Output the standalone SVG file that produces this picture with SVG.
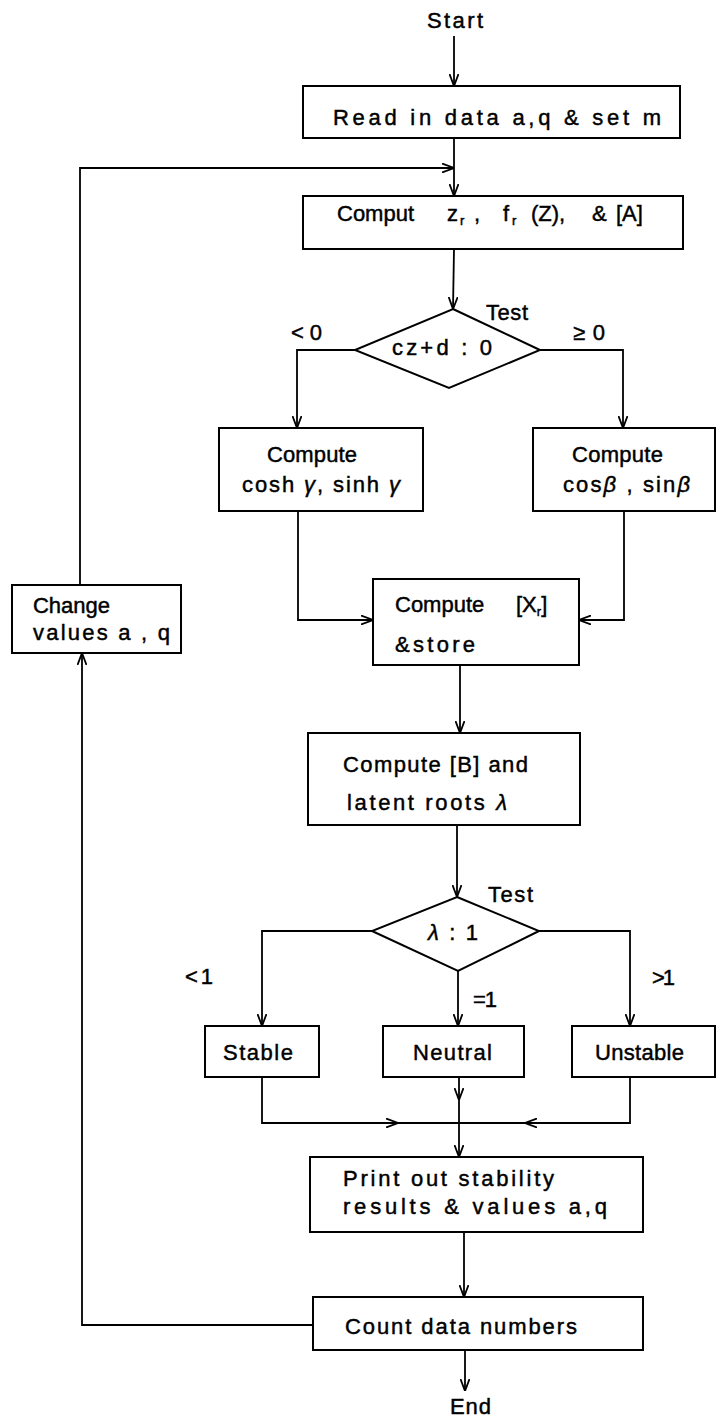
<svg xmlns="http://www.w3.org/2000/svg" width="716" height="1419" viewBox="0 0 716 1419">
<style>
.box{fill:#fff;stroke:#000;stroke-width:2}
.ln{fill:none;stroke:#000;stroke-width:1.8}
.t{font-family:"Liberation Sans",Arial,sans-serif;font-size:22px;fill:#000;stroke:#000;stroke-width:0.45}
.s{font-size:13px}
.i{font-style:italic}
</style>
<defs>
<marker id="ah" viewBox="0 0 12 10" refX="12" refY="5" markerWidth="12" markerHeight="10" markerUnits="userSpaceOnUse" orient="auto">
<path d="M0,0.5 L12,5 L0,9.5" fill="none" stroke="#000" stroke-width="1.8"/>
</marker>
</defs>
<rect width="716" height="1419" fill="#fff"/>
<g id="connectors" class="ln">
<line x1="454" y1="36" x2="454" y2="86" marker-end="url(#ah)"/>
<line x1="454" y1="138" x2="454" y2="196" marker-end="url(#ah)"/>
<polyline points="80,585 80,168 454,168" marker-end="url(#ah)"/>
<line x1="454" y1="249" x2="453" y2="309" marker-end="url(#ah)"/>
<polyline points="355,350 297,350 297,428" marker-end="url(#ah)"/>
<polyline points="540,350 623,350 623,428" marker-end="url(#ah)"/>
<polyline points="298,511 298,620 373,620" marker-end="url(#ah)"/>
<polyline points="624,511 624,620 579,620" marker-end="url(#ah)"/>
<line x1="460" y1="665" x2="460" y2="733" marker-end="url(#ah)"/>
<line x1="457" y1="825" x2="457" y2="897" marker-end="url(#ah)"/>
<polyline points="372,931 262,931 262,1026" marker-end="url(#ah)"/>
<polyline points="539,931 630,931 630,1026" marker-end="url(#ah)"/>
<line x1="458" y1="971" x2="458" y2="1026" marker-end="url(#ah)"/>
<line x1="459" y1="1077" x2="459" y2="1100" marker-end="url(#ah)"/>
<line x1="459" y1="1100" x2="459" y2="1157" marker-end="url(#ah)"/>
<polyline points="262,1077 262,1123 398,1123" marker-end="url(#ah)"/>
<line x1="398" y1="1123" x2="459" y2="1123"/>
<polyline points="630,1077 630,1123 525,1123" marker-end="url(#ah)"/>
<line x1="525" y1="1123" x2="459" y2="1123"/>
<line x1="464" y1="1232" x2="464" y2="1297" marker-end="url(#ah)"/>
<polyline points="313,1325 82,1325 82,653" marker-end="url(#ah)"/>
<line x1="465" y1="1350" x2="465" y2="1391" marker-end="url(#ah)"/>
</g>
<g id="start"><text class="t" x="427" y="28" textLength="56" lengthAdjust="spacing">Start</text></g>
<g id="read">
<rect class="box" x="303" y="86" width="377" height="52"/>
<text class="t" x="333" y="125" textLength="328" lengthAdjust="spacing">Read in data a,q &amp; set m</text>
</g>
<g id="comput">
<rect class="box" x="303" y="196" width="380" height="53"/>
<text class="t" y="221"><tspan x="337">Comput</tspan><tspan x="447">z</tspan><tspan class="s" x="460" dy="4">r</tspan><tspan x="474" dy="-4">,</tspan><tspan x="503">f</tspan><tspan class="s" x="512" dy="4">r</tspan><tspan x="531" dy="-4">(Z),</tspan><tspan x="592">&amp;</tspan><tspan x="616">[A]</tspan></text>
</g>
<g id="test1">
<polygon class="box" points="453,309 540,350 449,388 355,350"/>
<text class="t" x="392" y="355" textLength="100" lengthAdjust="spacing">cz+d : 0</text>
<text class="t" x="486" y="320" textLength="42" lengthAdjust="spacing">Test</text>
<text class="t" x="291" y="340" textLength="31" lengthAdjust="spacing">&lt;0</text>
<text class="t" x="573" y="340" textLength="32" lengthAdjust="spacing">≥0</text>
</g>
<g id="compute-gamma">
<rect class="box" x="219" y="428" width="204" height="83"/>
<text class="t" x="267" y="462" textLength="90" lengthAdjust="spacing">Compute</text>
<text class="t" x="242" y="492" textLength="158" lengthAdjust="spacing">cosh <tspan class="i">γ</tspan>,  sinh <tspan class="i">γ</tspan></text>
</g>
<g id="compute-beta">
<rect class="box" x="533" y="428" width="182" height="83"/>
<text class="t" x="572" y="462" textLength="91" lengthAdjust="spacing">Compute</text>
<text class="t" x="563" y="492" textLength="127" lengthAdjust="spacing">cos<tspan class="i">β</tspan> , sin<tspan class="i">β</tspan></text>
</g>
<g id="change">
<rect class="box" x="12" y="585" width="169" height="68"/>
<text class="t" x="33" y="613" textLength="77" lengthAdjust="spacing">Change</text>
<text class="t" x="33" y="640" textLength="137" lengthAdjust="spacing">values a , q</text>
</g>
<g id="compute-xr">
<rect class="box" x="373" y="579" width="206" height="86"/>
<text class="t" y="612"><tspan x="395">Compute</tspan><tspan x="516">[X</tspan><tspan class="s" dy="4">r</tspan><tspan dy="-4">]</tspan></text>
<text class="t" x="395" y="652" textLength="80" lengthAdjust="spacing">&amp;store</text>
</g>
<g id="compute-b">
<rect class="box" x="308" y="733" width="272" height="92"/>
<text class="t" x="343" y="772" textLength="185" lengthAdjust="spacing">Compute [B] and</text>
<text class="t" x="347" y="810" textLength="160" lengthAdjust="spacing">latent roots <tspan class="i">λ</tspan></text>
</g>
<g id="test2">
<polygon class="box" points="457,897 539,931 458,971 372,931"/>
<text class="t" x="428" y="940" textLength="50" lengthAdjust="spacing"><tspan class="i">λ</tspan> : 1</text>
<text class="t" x="488" y="902" textLength="45" lengthAdjust="spacing">Test</text>
<text class="t" x="185" y="984" textLength="28" lengthAdjust="spacing">&lt;1</text>
<text class="t" x="652" y="985" textLength="23" lengthAdjust="spacing">&gt;1</text>
<text class="t" x="473" y="1007" textLength="24" lengthAdjust="spacing">=1</text>
</g>
<g id="stable">
<rect class="box" x="205" y="1026" width="114" height="51"/>
<text class="t" x="223" y="1060" textLength="70" lengthAdjust="spacing">Stable</text>
</g>
<g id="neutral">
<rect class="box" x="383" y="1026" width="141" height="51"/>
<text class="t" x="413" y="1060" textLength="79" lengthAdjust="spacing">Neutral</text>
</g>
<g id="unstable">
<rect class="box" x="572" y="1026" width="143" height="51"/>
<text class="t" x="595" y="1060" textLength="89" lengthAdjust="spacing">Unstable</text>
</g>
<g id="print">
<rect class="box" x="310" y="1157" width="333" height="75"/>
<text class="t" x="343" y="1186" textLength="211" lengthAdjust="spacing">Print out stability</text>
<text class="t" x="343" y="1214" textLength="264" lengthAdjust="spacing">results &amp; values a,q</text>
</g>
<g id="count">
<rect class="box" x="313" y="1297" width="330" height="53"/>
<text class="t" x="345" y="1334" textLength="232" lengthAdjust="spacing">Count data numbers</text>
</g>
<g id="end"><text class="t" x="450" y="1414" textLength="41" lengthAdjust="spacing">End</text></g>
</svg>
